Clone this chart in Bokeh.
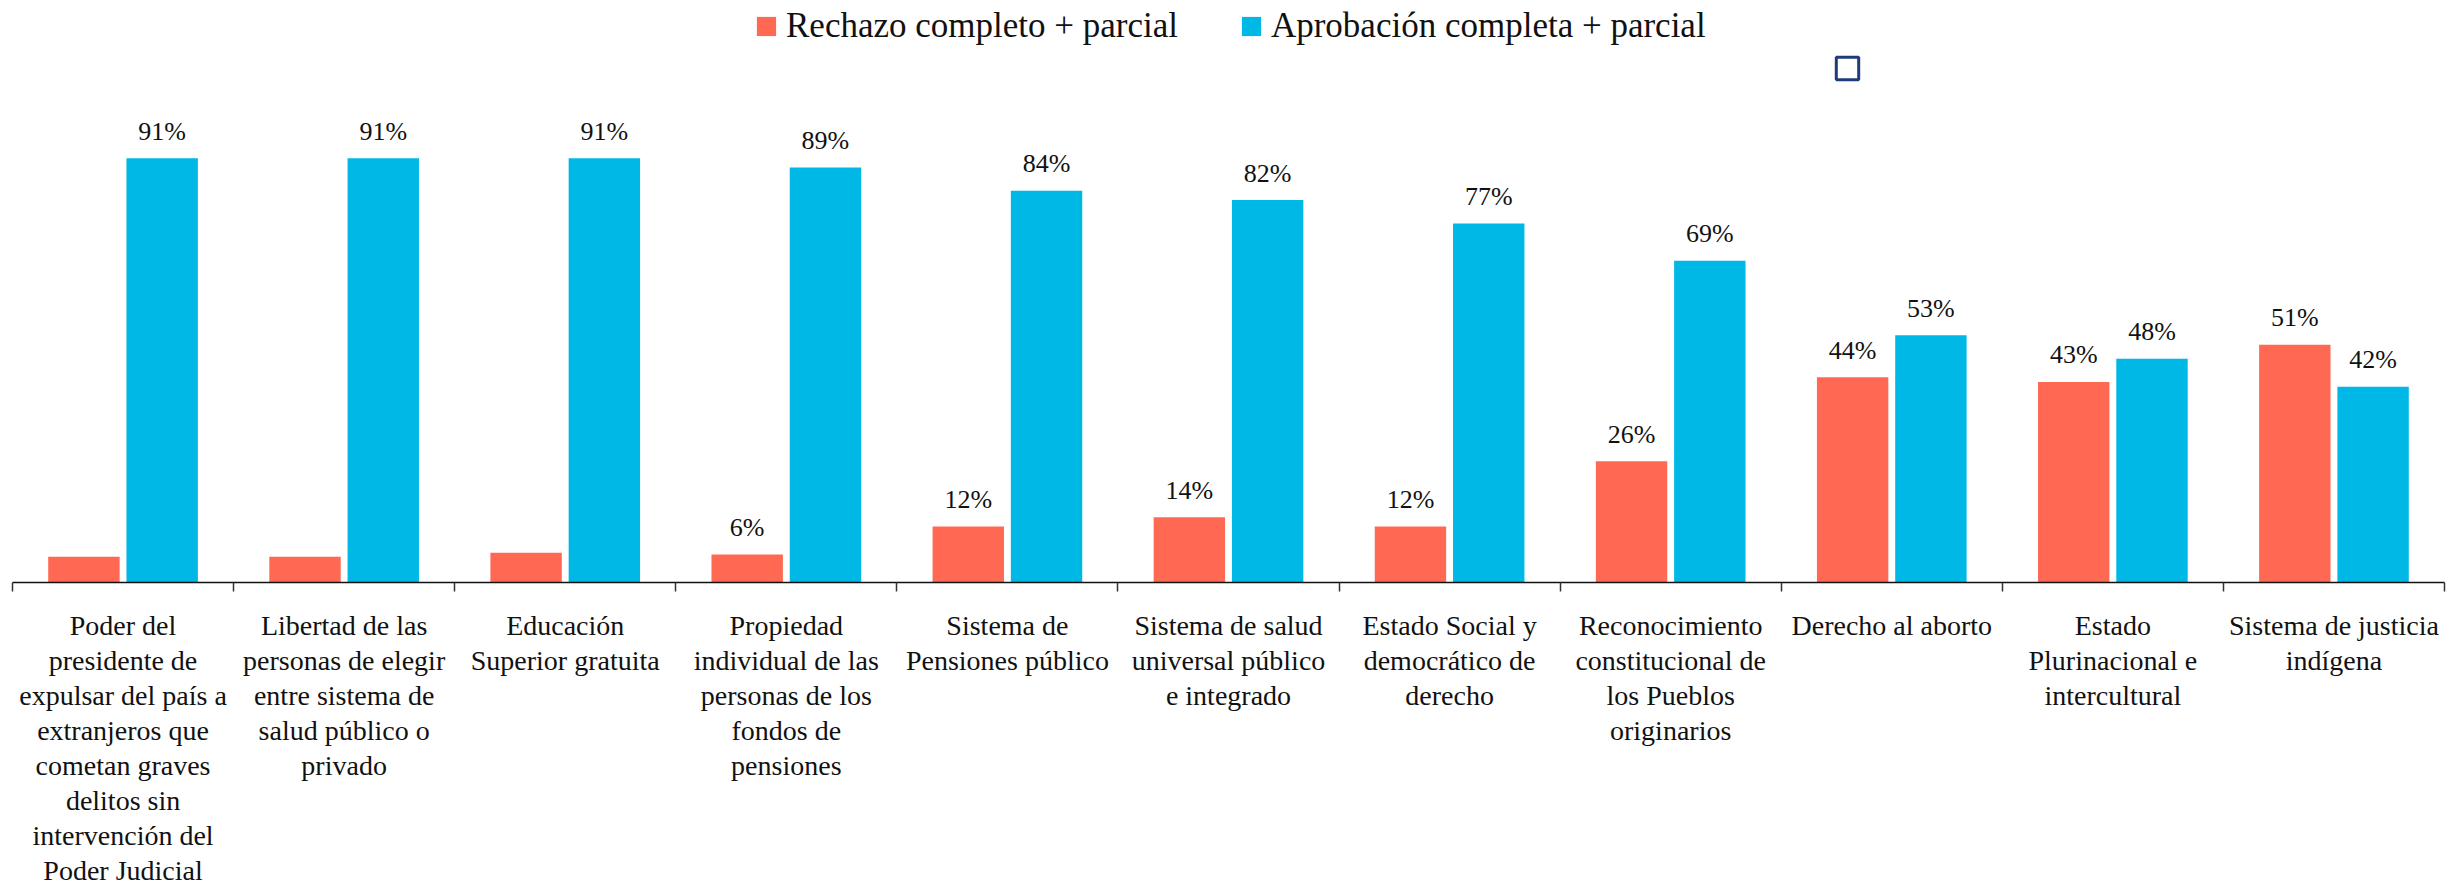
import numpy as np
from bokeh.plotting import figure
from bokeh.models import (ColumnDataSource, Range1d, LinearAxis, FixedTicker,
                          Legend, LegendItem)
from bokeh.core.properties import value
from bokeh.embed import file_html
from bokeh.resources import INLINE

categories = [
    "Poder del\npresidente de\nexpulsar del país a\nextranjeros que\ncometan graves\ndelitos sin\nintervención del\nPoder Judicial",
    "Libertad de las\npersonas de elegir\nentre sistema de\nsalud público o\nprivado",
    "Educación\nSuperior gratuita",
    "Propiedad\nindividual de las\npersonas de los\nfondos de\npensiones",
    "Sistema de\nPensiones público",
    "Sistema de salud\nuniversal público\ne integrado",
    "Estado Social y\ndemocrático de\nderecho",
    "Reconocimiento\nconstitucional de\nlos Pueblos\noriginarios",
    "Derecho al aborto",
    "Estado\nPlurinacional e\nintercultural",
    "Sistema de justicia\nindígena",
]
rechazo = [5.5, 5.5, 6.4, 6, 12, 14, 12, 26, 44, 43, 51]
aprobacion = [91, 91, 91, 89, 84, 82, 77, 69, 53, 48, 42]
rechazo_label_shown = [False, False, False, True, True, True, True, True, True, True, True]
series_names = ["Rechazo completo + parcial", "Aprobación completa + parcial"]

RED = "#FF6954"
BLUE = "#00B8E6"
NAVY = "#1F3C7A"
FONT = "Liberation Serif"

n = len(categories)
centers = np.arange(n) + 0.5
boundaries = np.arange(n + 1)
OFF = 0.177
BW = 0.323

src = ColumnDataSource(dict(
    xr=centers - OFF, xb=centers + OFF,
    rech=rechazo, apro=aprobacion,
    rl=[f"{round(v)}%" if s else "" for v, s in zip(rechazo, rechazo_label_shown)],
    al=[f"{round(v)}%" for v in aprobacion],
))

p = figure(width=2447, height=888, output_backend="svg", toolbar_location=None,
           x_range=Range1d(0, n), y_range=Range1d(0, 124.8),
           x_axis_location=None, y_axis_location=None,
           min_border_left=12, min_border_right=3, min_border_top=0,
           min_border_bottom=304)
p.outline_line_color = None
p.grid.visible = False
p.background_fill_color = "white"
p.border_fill_color = "white"

r_red = p.vbar(x="xr", top="rech", width=BW, source=src, fill_color=RED, line_color=None)
r_blue = p.vbar(x="xb", top="apro", width=BW, source=src, fill_color=BLUE, line_color=None)

p.text(x="xr", y="rech", text="rl", source=src, text_align="center",
       text_baseline="alphabetic", y_offset=-27, text_font=value(FONT),
       text_font_size="26px", text_color="#111111")
p.text(x="xb", y="apro", text="al", source=src, text_align="center",
       text_baseline="alphabetic", y_offset=-27, text_font=value(FONT),
       text_font_size="26px", text_color="#111111")

ax = LinearAxis(ticker=FixedTicker(ticks=list(centers), minor_ticks=list(boundaries)))
ax.major_label_overrides = {float(c): lab for c, lab in zip(centers, categories)}
ax.major_tick_out = 0
ax.major_tick_in = 0
ax.minor_tick_out = 9
ax.minor_tick_in = 0
ax.minor_tick_line_color = "#333333"
ax.minor_tick_line_width = 1.5
ax.axis_line_color = "#111111"
ax.axis_line_width = 1.5
ax.major_label_text_font = FONT
ax.major_label_text_font_size = "28px"
ax.major_label_text_color = "#111111"
ax.major_label_text_line_height = 1.13
ax.major_label_standoff = 18
p.add_layout(ax, "below")

legend = Legend(items=[LegendItem(label=series_names[0], renderers=[r_red]),
                       LegendItem(label=series_names[1], renderers=[r_blue])],
                orientation="horizontal", location=(742, 536),
                label_text_font=FONT, label_text_font_size="35px",
                label_text_color="#111111",
                glyph_width=24, glyph_height=24, label_standoff=8, spacing=61,
                padding=0, margin=0, border_line_color=None,
                background_fill_alpha=0)
p.add_layout(legend)

r_extra = p.vbar(x="xb", top="apro", width=BW, source=src, fill_color="white",
                 line_color=NAVY, line_width=3, visible=False)
legend2 = Legend(items=[LegendItem(label=value(" "), renderers=[r_extra])],
                 location=(1821, 500), glyph_width=28, glyph_height=28,
                 label_standoff=0, padding=0, margin=0, border_line_color=None,
                 background_fill_alpha=0, label_text_font_size="10px")
p.add_layout(legend2)

open("out.html", "w").write(file_html(p, INLINE))
